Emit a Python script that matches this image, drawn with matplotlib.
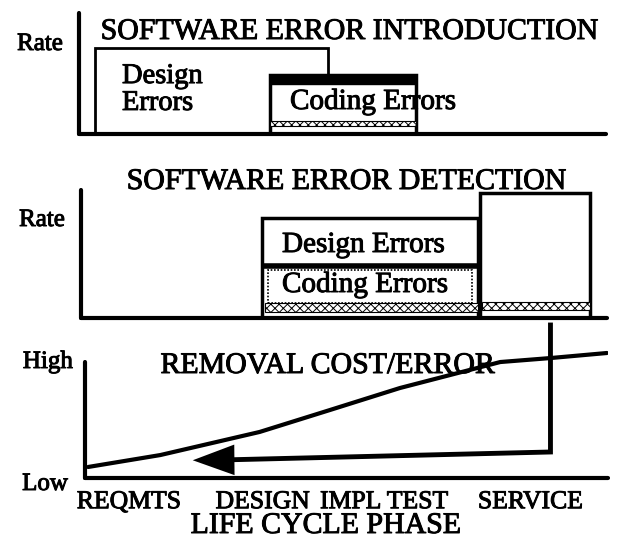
import numpy as np
import matplotlib
matplotlib.use("Agg")
from matplotlib import pyplot as plt
from matplotlib import patheffects as pe

W, H = 618, 542
plt.rcParams['font.family'] = ['Liberation Serif', 'DejaVu Serif']
plt.rcParams['hatch.linewidth'] = 0.7
ink = [pe.withStroke(linewidth=0.7, foreground='black')]

## data (x in phase units 0..5, y as fraction of panel height) ##
phases = ['REQMTS', 'DESIGN', 'IMPL', 'TEST', 'SERVICE']
phase_pos = [0.42, 1.70, 2.54, 3.18, 4.26]

# error introduction
intro_design_x = [0.15, 2.36]
intro_design_h = 0.71
intro_code_x = [1.81, 3.20]
intro_code_top = 0.49
intro_code_band = [0.07, 0.11]

# error detection
det_outer_x = [1.72, 3.77]
det_outer_h = 0.78
det_split = 0.41
det_code_x = [1.78, 3.72]
det_code_y = [0.12, 0.375]
det_band_x = [1.75, 3.77]
det_band_y = [0.05, 0.12]
service_x = [3.79, 4.84]
service_h = 0.98
service_band_y = [0.06, 0.125]

# removal cost per error
cost_x = [0.03, 0.72, 1.67, 2.34, 3.01, 3.49, 3.97, 4.45, 4.99]
cost_y = [0.072, 0.150, 0.301, 0.444, 0.588, 0.673, 0.758, 0.784, 0.817]
fix_x = [4.45, 4.45, 1.32]
fix_y = [1.0, 0.17, 0.118]
fix_tip = (1.03, 0.116)


def px_axes(fig, left, top, right, bottom):
    return fig.add_axes([left / W, 1 - bottom / H, (right - left) / W, (bottom - top) / H])


def px_text(fig, x, y, s, **kw):
    fig.text(x / W, 1 - y / H, s, path_effects=ink, **kw)


def frame(ax, top=1.0):
    ax.set_xlim(0, 5)
    ax.set_ylim(0, 1)
    for s in ['top', 'right']:
        ax.spines[s].set_visible(False)
    for s in ['left', 'bottom']:
        ax.spines[s].set_linewidth(3)
        ax.spines[s].set_capstyle('round')
        ax.spines[s].set_zorder(6)
    ax.spines['left'].set_bounds(0, top)
    ax.set_xticks([])
    ax.set_yticks([])
    ax.patch.set_alpha(0)


fig = plt.figure(figsize=(W / 100, H / 100), dpi=100)

## panel 1: introduction ##
ax1 = px_axes(fig, 79, 13, 606, 134)
frame(ax1)
ax1.bar(intro_design_x[0], intro_design_h, width=intro_design_x[1] - intro_design_x[0],
        align='edge', facecolor='white', edgecolor='black', lw=2, zorder=2)
cw = intro_code_x[1] - intro_code_x[0]
ax1.bar(intro_code_x[0], intro_code_top, width=cw, align='edge', facecolor='white',
        edgecolor='black', lw=2.5, zorder=3)
ax1.bar(intro_code_x[0], 0.08, bottom=intro_code_top - 0.08, width=cw, align='edge',
        facecolor='black', edgecolor='black', lw=1, zorder=4)
ax1.bar(intro_code_x[0], intro_code_band[1] - intro_code_band[0], bottom=intro_code_band[0],
        width=cw, align='edge', facecolor='white', edgecolor='black', hatch='xxxx',
        lw=0.8, zorder=4)

px_text(fig, 40, 44, 'Rate', ha='center', va='center', fontsize=18)
px_text(fig, 350, 32, 'SOFTWARE ERROR INTRODUCTION', ha='center', va='center', fontsize=21.5)
px_text(fig, 122, 90, 'Design\nErrors', ha='left', va='center', fontsize=20.5,
        linespacing=1.1)
px_text(fig, 290, 102, 'Coding Errors', ha='left', va='center', fontsize=21)

## panel 2: detection ##
ax2 = px_axes(fig, 81, 190, 607, 318)
frame(ax2)
ax2.bar(det_outer_x[0], det_outer_h, width=det_outer_x[1] - det_outer_x[0], align='edge',
        facecolor='white', edgecolor='black', lw=2.5, zorder=2)
ax2.plot(det_outer_x, [det_split, det_split], color='black', lw=4, solid_capstyle='butt', zorder=3)
ax2.bar(det_code_x[0], det_code_y[1] - det_code_y[0], bottom=det_code_y[0],
        width=det_code_x[1] - det_code_x[0], align='edge', facecolor='white',
        edgecolor='black', lw=1.2, ls=(0, (1, 1)), zorder=3)
ax2.bar(det_band_x[0], det_band_y[1] - det_band_y[0], bottom=det_band_y[0],
        width=det_band_x[1] - det_band_x[0], align='edge', facecolor='white',
        edgecolor='black', hatch='xxxx', lw=0.8, zorder=3)
ax2.bar(service_x[0], service_h, width=service_x[1] - service_x[0], align='edge',
        facecolor='white', edgecolor='black', lw=2.5, zorder=2)
ax2.bar(service_x[0] + 0.02, service_band_y[1] - service_band_y[0], bottom=service_band_y[0],
        width=service_x[1] - service_x[0] - 0.02, align='edge', facecolor='white',
        edgecolor='black', hatch='xxxx', lw=0.8, zorder=3)

px_text(fig, 42, 220, 'Rate', ha='center', va='center', fontsize=18)
px_text(fig, 347, 182, 'SOFTWARE ERROR DETECTION', ha='center', va='center', fontsize=21.5)
px_text(fig, 282, 245, 'Design Errors', ha='left', va='center', fontsize=21)
px_text(fig, 282, 285, 'Coding Errors', ha='left', va='center', fontsize=21)

## panel 3: removal cost ##
ax3 = px_axes(fig, 85, 325, 608, 478)
frame(ax3, top=0.758)
ax3.plot(cost_x, cost_y, color='black', lw=3, solid_capstyle='round', solid_joinstyle='round')
ax3.plot(fix_x, fix_y, color='black', lw=3.5, solid_joinstyle='miter', clip_on=False)
ax3.annotate('', xy=fix_tip, xytext=(fix_x[-1] + 0.02, fix_y[-1]),
             arrowprops=dict(arrowstyle='-|>,head_length=1.5,head_width=0.55',
                             color='black', lw=0, mutation_scale=20, shrinkA=0, shrinkB=0))
ax3.set_xticks(phase_pos)
ax3.set_xticklabels(phases, fontsize=18.5, path_effects=ink)
ax3.tick_params(axis='x', length=0, pad=9.5)

px_text(fig, 48, 362, 'High', ha='center', va='center', fontsize=18)
px_text(fig, 45, 484, 'Low', ha='center', va='center', fontsize=18)
px_text(fig, 328, 366, 'REMOVAL COST/ERROR', ha='center', va='center', fontsize=21.5)
px_text(fig, 326, 526, 'LIFE CYCLE PHASE', ha='center', va='center', fontsize=21.5)

fig.savefig('out.png', dpi=100)
